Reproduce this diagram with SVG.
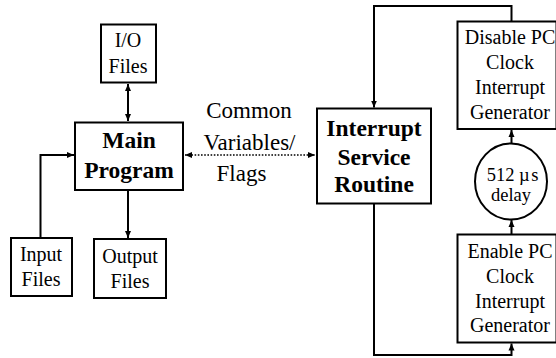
<svg xmlns="http://www.w3.org/2000/svg" width="556" height="358" viewBox="0 0 556 358">
<defs>
<marker id="ah" markerUnits="userSpaceOnUse" markerWidth="8" markerHeight="8" refX="7" refY="3" orient="auto-start-reverse" viewBox="0 0 8 6">
<path d="M0,0 L7,3 L0,6 z" fill="#000"/>
</marker>
<style>
.box{fill:#fff;stroke:#000;stroke-width:2}
.t{font-size:20px;text-anchor:middle;fill:#000}
.b{font-size:23.5px;font-weight:bold;text-anchor:middle;fill:#000}
.m{font-size:23px}
.s{font-size:18.5px}
.c{fill:none;stroke:#000;stroke-width:2}
.d{fill:none;stroke:#000;stroke-width:1.6;stroke-dasharray:1.6 1.6}
</style>
</defs>
<rect width="556" height="358" fill="#fff"/>
<g id="connectors">
<path class="c" d="M128,84 L128,121" marker-start="url(#ah)" marker-end="url(#ah)"/>
<path class="c" d="M40.5,238 L40.5,155 L74,155" marker-end="url(#ah)"/>
<path class="c" d="M128,190 L128,238" marker-end="url(#ah)"/>
<path class="d" d="M185,155 L315,155" marker-start="url(#ah)" marker-end="url(#ah)"/>
<path class="c" d="M511.5,21 L511.5,6 L374,6 L374,107.5" marker-end="url(#ah)"/>
<path class="c" d="M374,203.5 L374,355 L511.5,355 L511.5,343.5" marker-end="url(#ah)"/>
<path class="c" d="M511.5,143.5 L511.5,130" marker-end="url(#ah)"/>
<path class="c" d="M511.5,234 L511.5,220" marker-end="url(#ah)"/>
</g>
<g font-family="'Liberation Serif', 'Times New Roman', serif">
<g id="io_files">
<rect class="box" x="101" y="24.5" width="55" height="58"/>
<text class="t" x="128" y="47">I/O</text>
<text class="t" x="128" y="73">Files</text>
</g>
<g id="main_program">
<rect class="box" x="75" y="122.5" width="108" height="67.5"/>
<text class="b" x="129" y="147.5">Main</text>
<text class="b" x="129" y="177.5">Program</text>
</g>
<g id="input_files">
<rect class="box" x="11" y="238" width="61" height="58"/>
<text class="t" x="41" y="261">Input</text>
<text class="t" x="41" y="286">Files</text>
</g>
<g id="output_files">
<rect class="box" x="94" y="239" width="72" height="59"/>
<text class="t" x="130" y="263">Output</text>
<text class="t" x="130" y="287.5">Files</text>
</g>
<g id="common_label">
<text class="t m" x="249" y="118">Common</text>
<text class="t m" x="249.5" y="149.5">Variables/</text>
<text class="t m" x="241.5" y="181">Flags</text>
</g>
<g id="isr">
<rect class="box" x="317" y="108.5" width="114" height="95"/>
<text class="b" x="374" y="136">Interrupt</text>
<text class="b" x="374" y="164.5">Service</text>
<text class="b" x="374" y="192">Routine</text>
</g>
<g id="disable_pc">
<rect class="box" x="457.5" y="21.5" width="99" height="107.5"/>
<text class="t" x="510" y="44">Disable PC</text>
<text class="t" x="510" y="69">Clock</text>
<text class="t" x="510" y="94">Interrupt</text>
<text class="t" x="510" y="118.5">Generator</text>
</g>
<g id="delay">
<ellipse class="box" cx="511" cy="181.5" rx="36" ry="38"/>
<text class="t s" x="512.5" y="181">512 µ<tspan dx="1.5">s</tspan></text>
<text class="t s" x="511" y="201">delay</text>
</g>
<g id="enable_pc">
<rect class="box" x="457.5" y="234.5" width="99" height="108"/>
<text class="t" x="510" y="258">Enable PC</text>
<text class="t" x="510" y="283">Clock</text>
<text class="t" x="510" y="307.5">Interrupt</text>
<text class="t" x="510" y="332">Generator</text>
</g>
</g>
</svg>
